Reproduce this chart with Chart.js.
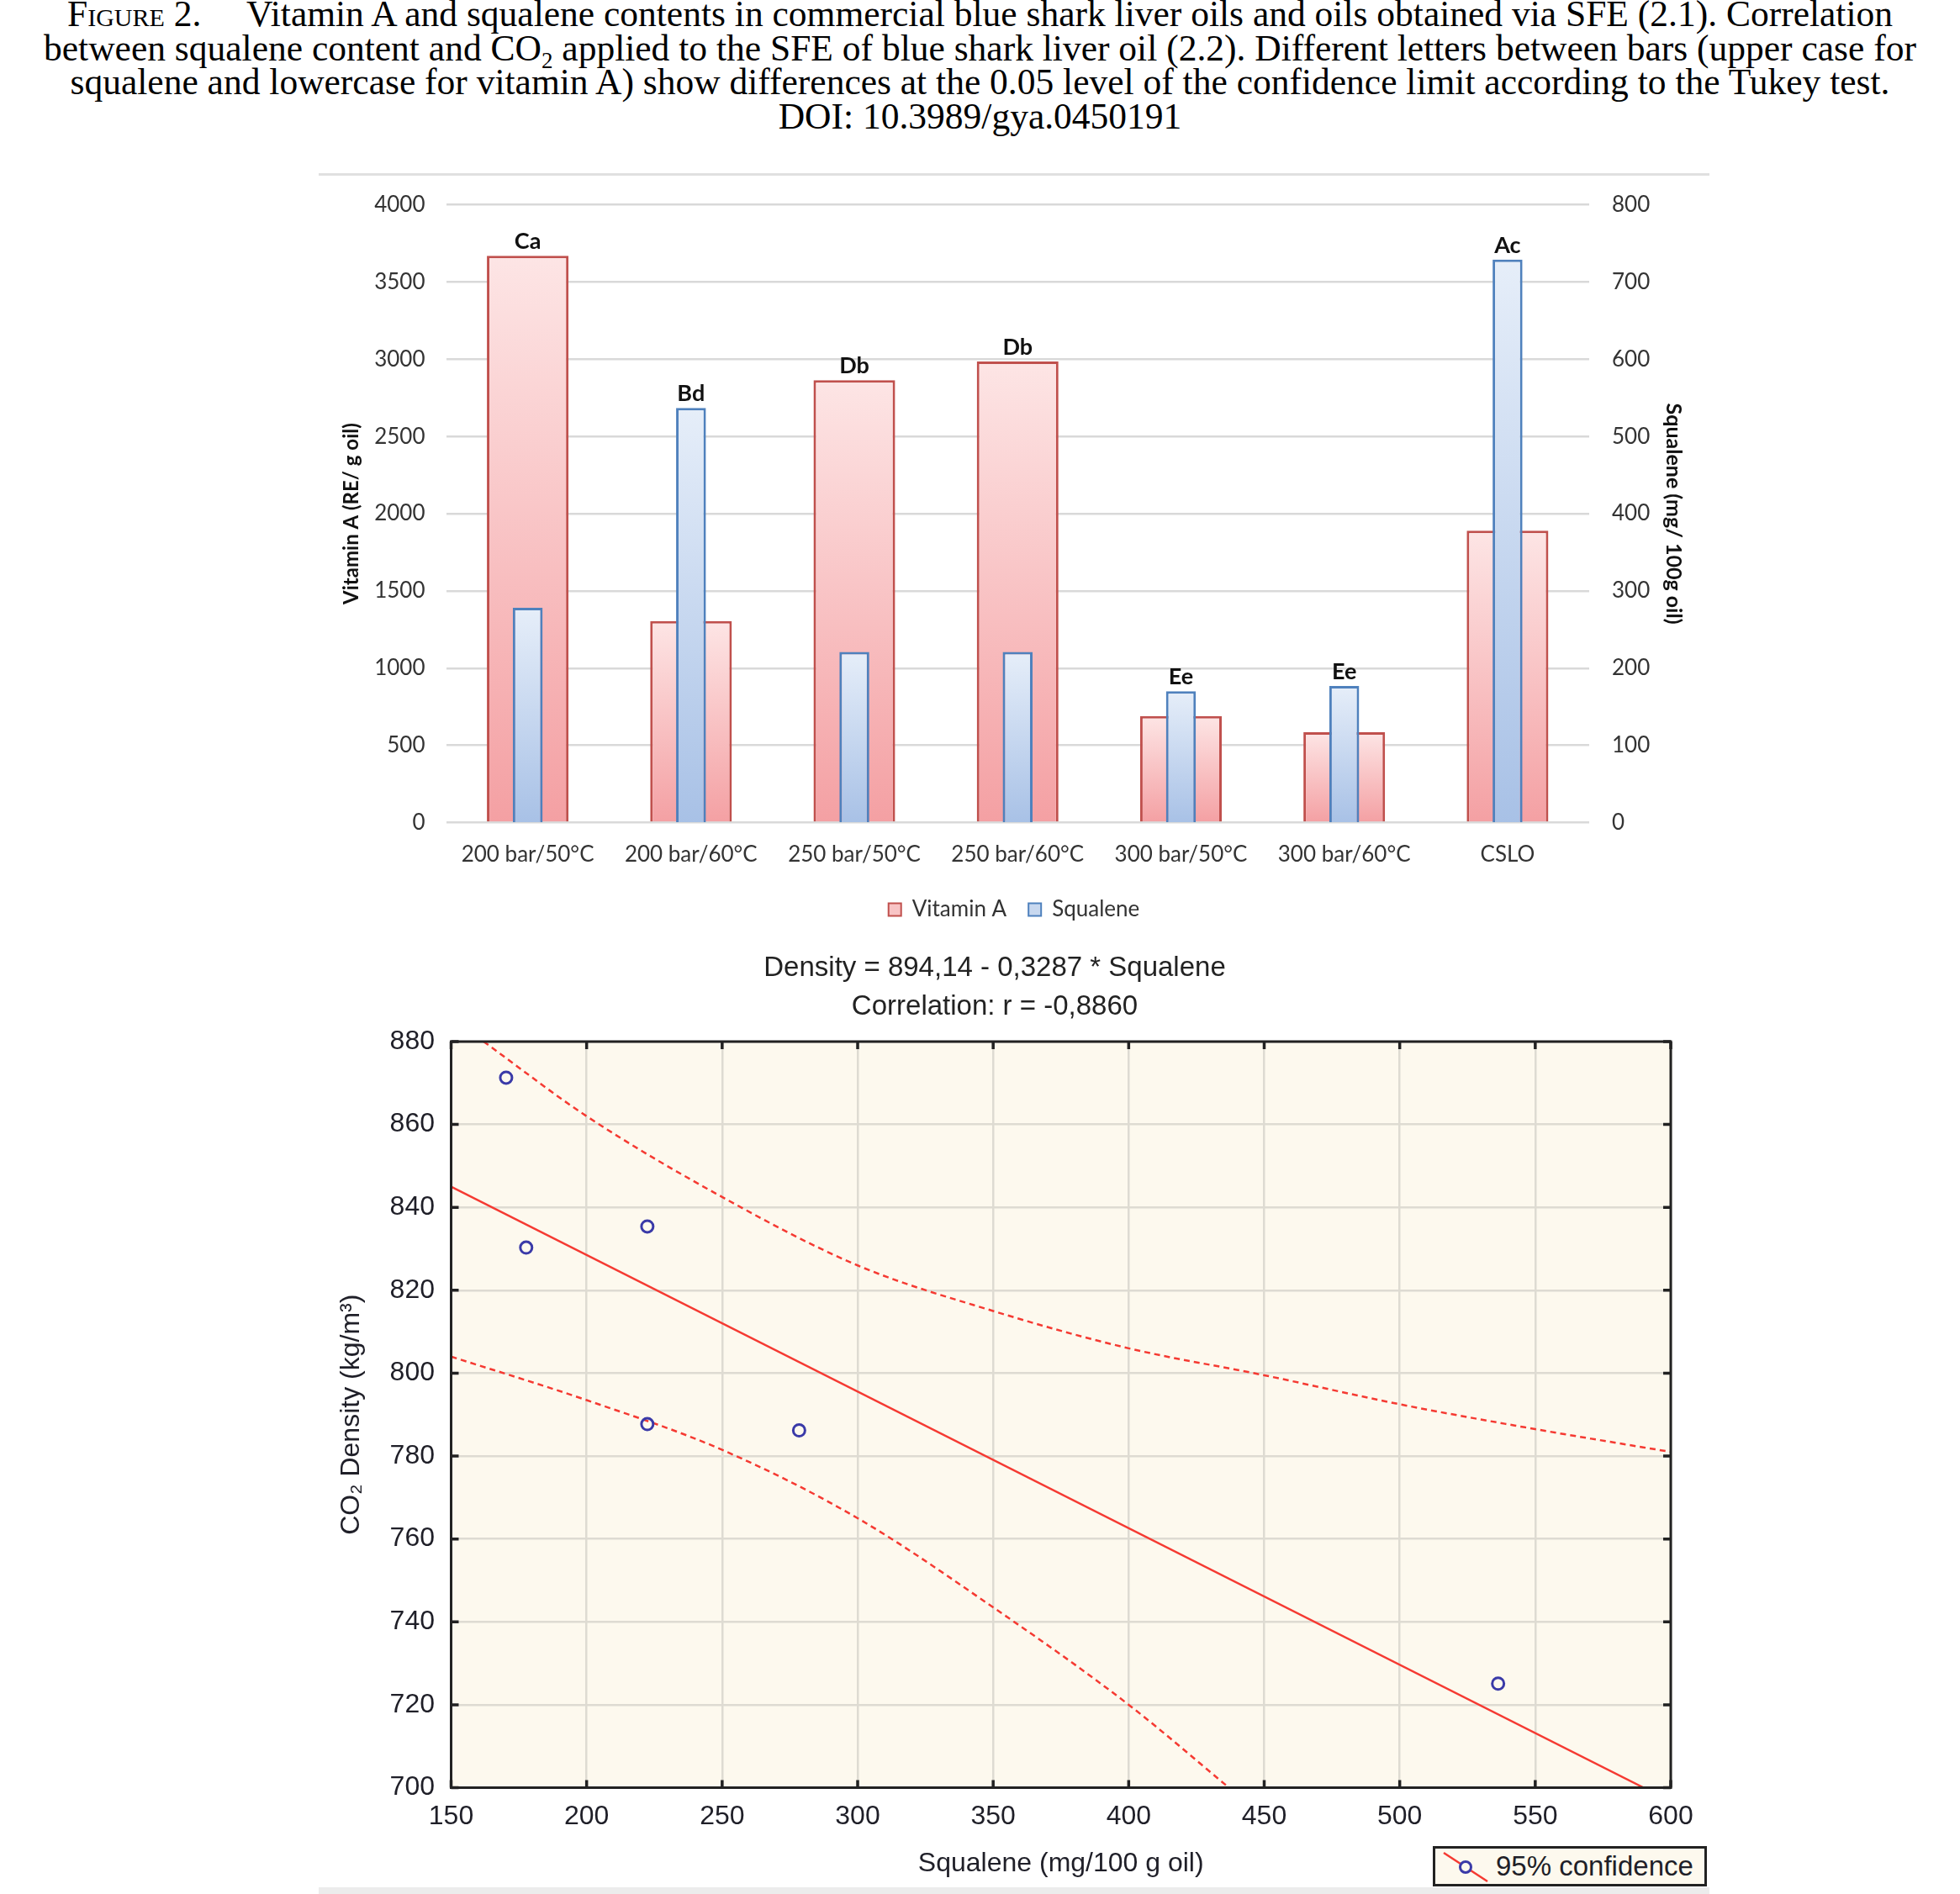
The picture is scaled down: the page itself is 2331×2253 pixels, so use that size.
<!DOCTYPE html>
<html>
<head>
<meta charset="utf-8">
<title>Vitamin A and squalene in blue shark liver oils</title>
<script src="https://cdn.jsdelivr.net/npm/chart.js@4.4.1/dist/chart.umd.min.js"></script>
<style>
  html, body { margin: 0; padding: 0; background: #fff; }
  body { width: 2331px; height: 2253px; position: relative; overflow: hidden; }
  #caption {
    position: absolute; left: 0; top: -4px; width: 2331px;
    text-align: center; white-space: nowrap;
    font-family: "Liberation Serif", "DejaVu Serif", serif;
    font-size: 43.5px; line-height: 40.7px; color: #000;
  }
  #caption .sc { font-variant: small-caps; }
  #caption sub { font-size: 27px; line-height: 0; vertical-align: -9px; }
  .rule { position: absolute; left: 379px; width: 1654px; background: #e0e0e0; }
  #barChart { position: absolute; left: 379px; top: 201px; }
  #fitChart { position: absolute; left: 379px; top: 1103px; }
  #fit-legend {
    position: absolute; left: 1704px; top: 2196px; width: 320px; height: 42px;
    border: 3px solid #222; background: #fdf9ee;
    display: flex; align-items: center; box-sizing: content-box;
    font-family: "Liberation Sans", Arial, sans-serif; font-size: 33px; color: #1f1f28;
  }
  #fit-legend svg { margin-left: 8px; }
  #fit-legend span { margin-left: 8px; }
</style>
</head>
<body>

<div id="caption">
  <span class="sc">Figure 2.</span>&nbsp;&nbsp;&nbsp;&nbsp; Vitamin A and squalene contents in commercial blue shark liver oils and oils obtained via SFE (2.1). Correlation<br>
  between squalene content and CO<sub>2</sub> applied to the SFE of blue shark liver oil (2.2). Different letters between bars (upper case for<br>
  squalene and lowercase for vitamin A) show differences at the 0.05 level of the confidence limit according to the Tukey test.<br>
  DOI: 10.3989/gya.0450191
</div>

<div class="rule" style="top:206px;height:3px;"></div>
<canvas id="barChart" width="1654" height="904"></canvas>
<canvas id="fitChart" width="1650" height="1153"></canvas>
<div class="rule" style="top:2245px;height:8px;background:#ececec;"></div>

<div id="fit-legend">
  <svg width="56" height="40" viewBox="0 0 56 40">
    <line x1="2" y1="4" x2="54" y2="38" stroke="#f53a32" stroke-width="2.5"/>
    <circle cx="28" cy="21" r="6.5" fill="#fdf9ee" stroke="#3a3aa8" stroke-width="3"/>
  </svg>
  <span>95% confidence</span>
</div>

<script>
/* ---- Figure 2.1 : bar chart data ---- */
const categories = ['200 bar/50°C', '200 bar/60°C', '250 bar/50°C', '250 bar/60°C', '300 bar/50°C', '300 bar/60°C', 'CSLO'];
const vitaminA = [3670, 1305, 2865, 2985, 690, 585, 1890];      // RE/ g oil
const squalene = [278, 537, 221, 221, 170, 177, 729];           // mg/ 100g oil
const tukeyLetters = ['Ca', 'Bd', 'Db', 'Db', 'Ee', 'Ee', 'Ac'];
const vitaminTicks = [0, 4000, 500];
const squaleneTicks = [0, 800, 100];

/* ---- Figure 2.2 : correlation data ---- */
const pointSqualene = [170.3, 177.7, 222.4, 222.4, 278.4, 536.3];
const pointDensity = [871.3, 830.3, 835.4, 787.7, 786.2, 725.1];
const fitSqualene = [150, 590];
const fitDensity = [845, 700];
const upperSqualene = [162, 200, 250, 300, 350, 400, 450, 500, 550, 600];
const upperDensity = [880, 862, 842.5, 826, 815, 806, 799.5, 792.5, 786.5, 781];
const lowerSqualene = [150, 200, 250, 300, 350, 400, 437];
const lowerDensity = [804, 793.5, 781.5, 765, 743.5, 720, 700];
const densityTicks = [700, 880, 20];
const squaleneAxisTicks = [150, 600, 50];

const BAR_FONT = 'Lato, "Open Sans", sans-serif';
const STAT_FONT = '"Liberation Sans", Arial, sans-serif';

// vertical gradient for each bar, light at the top and stronger at the base
function barFill(topColor, baseColor) {
  return function (c) {
    const chart = c.chart;
    if (!chart.chartArea || c.type !== 'data') return baseColor;
    const scale = chart.scales[c.dataset.yAxisID];
    const yTop = scale.getPixelForValue(c.parsed.y);
    const yBase = scale.getPixelForValue(0);
    if (!isFinite(yTop) || yBase - yTop < 1) return baseColor;
    const g = chart.ctx.createLinearGradient(0, yTop, 0, yBase);
    g.addColorStop(0, topColor);
    g.addColorStop(1, baseColor);
    return g;
  };
}

// Tukey letters above the taller bar of each group
const tukeyPlugin = {
  id: 'tukey',
  afterDatasetsDraw(chart) {
    const ctx = chart.ctx;
    const va = chart.getDatasetMeta(0).data;
    const sq = chart.getDatasetMeta(1).data;
    ctx.save();
    ctx.font = 'bold 27px ' + BAR_FONT;
    ctx.fillStyle = '#111';
    ctx.textAlign = 'center';
    ctx.textBaseline = 'middle';
    tukeyLetters.forEach((txt, i) => {
      const top = Math.min(va[i].y, sq[i].y);
      ctx.fillText(txt, va[i].x, top - 17);
    });
    ctx.restore();
  }
};

new Chart(document.getElementById('barChart'), {
  type: 'bar',
  data: {
    labels: categories,
    datasets: [
      {
        label: 'Vitamin A',
        data: vitaminA,
        yAxisID: 'y',
        order: 2,
        grouped: false,
        barPercentage: 0.5,
        categoryPercentage: 1,
        backgroundColor: barFill('#fde5e5', '#f4a0a3'),
        legendFill: '#f8c4c5',
        borderColor: '#c0504d',
        borderWidth: 3
      },
      {
        label: 'Squalene',
        data: squalene,
        yAxisID: 'y2',
        order: 1,
        grouped: false,
        barPercentage: 0.183,
        categoryPercentage: 1,
        backgroundColor: barFill('#e6eef9', '#a8c1e6'),
        legendFill: '#c8d8ef',
        borderColor: '#4f81bd',
        borderWidth: 3
      }
    ]
  },
  options: {
    responsive: false,
    devicePixelRatio: 1,
    animation: false,
    layout: { padding: { top: 27, left: 0, right: 0, bottom: 0 } },
    scales: {
      x: {
        grid: { display: false },
        border: { display: false },
        ticks: { color: '#333', font: { family: BAR_FONT, size: 26 }, padding: 15, maxRotation: 0 },
        afterFit: s => { s.height = 64.5; }
      },
      y: {
        position: 'left',
        min: vitaminTicks[0], max: vitaminTicks[1],
        ticks: {
          stepSize: vitaminTicks[2], color: '#333', font: { family: BAR_FONT, size: 26 }, padding: 25,
          callback: v => String(v)
        },
        grid: { color: '#d9d9d9', lineWidth: 2.5, drawTicks: false },
        border: { display: false },
        title: {
          display: true, text: 'Vitamin A (RE/ g oil)', color: '#111',
          font: { family: BAR_FONT, size: 24, weight: 'bold' }, padding: { top: 24.6, bottom: 0 }
        },
        afterFit: s => { s.width = 151.5; }
      },
      y2: {
        position: 'right',
        min: squaleneTicks[0], max: squaleneTicks[1],
        ticks: {
          stepSize: squaleneTicks[2], color: '#333', font: { family: BAR_FONT, size: 26 }, padding: 27,
          callback: v => String(v)
        },
        grid: { drawOnChartArea: false, drawTicks: false },
        border: { display: false },
        title: {
          display: true, text: 'Squalene (mg/ 100g oil)', color: '#111',
          font: { family: BAR_FONT, size: 25, weight: 'bold' }, padding: { top: 27.6, bottom: 0 }
        },
        afterFit: s => { s.width = 143; }
      }
    },
    plugins: {
      legend: {
        position: 'bottom',
        labels: {
          font: { family: BAR_FONT, size: 26 },
          color: '#333',
          boxWidth: 15,
          boxHeight: 15,
          padding: 26,
          generateLabels: chart => chart.data.datasets.map((ds, i) => ({
            text: ds.label,
            fillStyle: ds.legendFill,
            strokeStyle: ds.borderColor,
            lineWidth: 2,
            fontColor: '#333',
            datasetIndex: i
          }))
        }
      },
      tooltip: { enabled: false }
    }
  },
  plugins: [tukeyPlugin]
});

/* ---- Figure 2.2 ---- */
const plotBackground = {
  id: 'plotBackground',
  beforeDraw(chart) {
    const { ctx, chartArea: a } = chart;
    ctx.save();
    ctx.fillStyle = '#fdf9ee';
    ctx.fillRect(a.left, a.top, a.right - a.left, a.bottom - a.top);
    ctx.restore();
  }
};

// black frame with inward tick marks on all four sides
const frameTicks = {
  id: 'frameTicks',
  afterDatasetsDraw(chart) {
    const { ctx, chartArea: a, scales } = chart;
    ctx.save();
    ctx.strokeStyle = '#222';
    ctx.lineWidth = 3.5;
    ctx.beginPath();
    scales.x.ticks.forEach(t => {
      const px = scales.x.getPixelForValue(t.value);
      ctx.moveTo(px, a.bottom); ctx.lineTo(px, a.bottom - 9);
      ctx.moveTo(px, a.top); ctx.lineTo(px, a.top + 9);
    });
    scales.y.ticks.forEach(t => {
      const py = scales.y.getPixelForValue(t.value);
      ctx.moveTo(a.left, py); ctx.lineTo(a.left + 9, py);
      ctx.moveTo(a.right, py); ctx.lineTo(a.right - 9, py);
    });
    ctx.stroke();
    ctx.lineWidth = 3;
    ctx.strokeRect(a.left, a.top, a.right - a.left, a.bottom - a.top);
    ctx.restore();
  }
};

const toXY = (xs, ys) => xs.map((x, i) => ({ x: x, y: ys[i] }));
const RED = '#f53a32';

new Chart(document.getElementById('fitChart'), {
  type: 'scatter',
  data: {
    datasets: [
      {
        label: 'Observed',
        data: toXY(pointSqualene, pointDensity),
        pointStyle: 'circle',
        pointRadius: 7,
        pointBorderWidth: 3,
        borderColor: '#3a3aa8',
        backgroundColor: 'rgba(0,0,0,0)'
      },
      {
        label: 'Regression',
        data: toXY(fitSqualene, fitDensity),
        showLine: true,
        pointRadius: 0,
        borderColor: RED,
        borderWidth: 2.5
      },
      {
        label: 'Upper 95%',
        data: toXY(upperSqualene, upperDensity),
        showLine: true,
        cubicInterpolationMode: 'monotone',
        pointRadius: 0,
        borderColor: RED,
        borderWidth: 2.5,
        borderDash: [7, 5]
      },
      {
        label: 'Lower 95%',
        data: toXY(lowerSqualene, lowerDensity),
        showLine: true,
        cubicInterpolationMode: 'monotone',
        pointRadius: 0,
        borderColor: RED,
        borderWidth: 2.5,
        borderDash: [7, 5]
      }
    ]
  },
  options: {
    responsive: false,
    devicePixelRatio: 1,
    animation: false,
    layout: { padding: { top: 0, left: 0, right: 42, bottom: 0 } },
    scales: {
      x: {
        type: 'linear',
        min: squaleneAxisTicks[0], max: squaleneAxisTicks[1],
        ticks: { stepSize: squaleneAxisTicks[2], color: '#1f1f28', font: { family: STAT_FONT, size: 32 }, padding: 15 },
        grid: { color: '#dedbd2', lineWidth: 2.5, drawTicks: false },
        border: { display: false },
        title: {
          display: true, text: 'Squalene (mg/100 g oil)', color: '#1f1f28',
          font: { family: STAT_FONT, size: 32 }, padding: { top: 0, bottom: 19.8 }
        },
        afterFit: s => { s.height = 129.5; }
      },
      y: {
        min: densityTicks[0], max: densityTicks[1],
        ticks: { stepSize: densityTicks[2], color: '#1f1f28', font: { family: STAT_FONT, size: 32 }, padding: 19.5 },
        grid: { color: '#dedbd2', lineWidth: 2.5, drawTicks: false },
        border: { display: false },
        title: {
          display: true, text: 'CO₂ Density (kg/m³)', color: '#1f1f28',
          font: { family: STAT_FONT, size: 32 }, padding: { top: 19.8, bottom: 0 }
        },
        afterFit: s => { s.width = 157.5; }
      }
    },
    plugins: {
      legend: { display: false },
      tooltip: { enabled: false },
      title: {
        display: true,
        text: ['Density = 894,14 - 0,3287 * Squalene', 'Correlation: r = -0,8860'],
        color: '#222',
        font: { family: STAT_FONT, size: 33, weight: 'normal', lineHeight: 1.394 },
        padding: { top: 26, bottom: 18 }
      }
    }
  },
  plugins: [plotBackground, frameTicks]
});
</script>
</body>
</html>
